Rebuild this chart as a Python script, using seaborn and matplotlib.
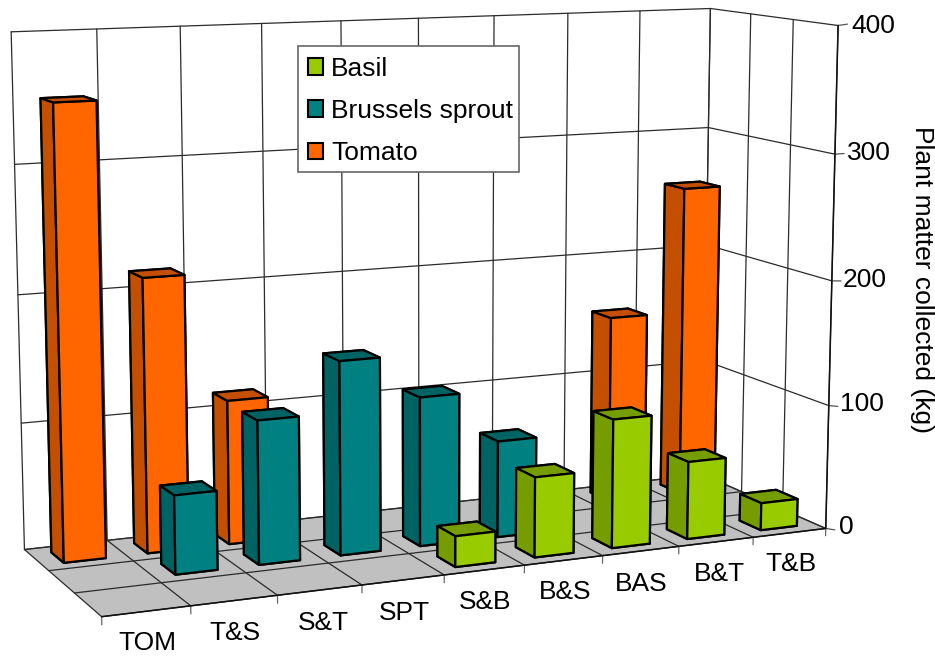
import numpy as np
import matplotlib
matplotlib.use("Agg")
import matplotlib.pyplot as plt
from matplotlib.patches import Patch, Rectangle
import seaborn as sns

categories = ["TOM", "T&S", "S&T", "SPT", "S&B", "B&S", "BAS", "B&T", "T&B"]
series_names = ["Basil", "Brussels sprout", "Tomato"]
basil = [0, 0, 0, 0, 24, 63, 102, 62, 22]
brussels = [0, 61, 112, 152, 118, 77, 0, 0, 0]
tomato = [351, 215, 114, 0, 0, 0, 0, 154, 257]
value_ticks = [0, 100, 200, 300, 400]
y_label = "Plant matter collected (kg)"

W, H = 935, 658
sns.set_theme(style="white")
plt.rcParams["font.family"] = ["Liberation Sans", "DejaVu Sans"]
colors = sns.color_palette(["#99CC00", "#008080", "#FF6600"])

# reference geometry of the chart box: (category, depth, value) -> pixel
anchors = [
    (0, 0, 0, 100.7, 617), (9, 0, 0, 826.7, 527.7), (0, 3, 0, 24.3, 549.3), (9, 3, 0, 702, 476),
    (0, 3, 400, 10.7, 32), (9, 3, 400, 711, 7.7), (9, 0, 400, 838.3, 25.7),
    (0, 3, 300, 15, 163.7), (9, 3, 300, 708.3, 127.7), (9, 0, 300, 835, 154),
    (1, 0, 0, 191, 606.7), (2, 0, 0, 276.7, 596), (7, 0, 0, 679, 545.7), (8, 0, 0, 752.7, 536.7),
    (0, 1, 0, 75.7, 593.3), (0, 2, 0, 49, 569.3), (1, 3, 400, 96.7, 29.3),
    (9, 2, 400, 750.7, 14), (9, 1, 400, 792.7, 20),
]


def fit_camera(pts):
    a = np.array(pts, float)
    X = np.c_[a[:, 0] / 9, a[:, 1] / 3, a[:, 2] / 400, np.ones(len(a))]
    u, v = a[:, 3] / W, a[:, 4] / H
    rows = []
    for i in range(len(a)):
        rows.append(np.r_[X[i], np.zeros(4), -u[i] * X[i]])
        rows.append(np.r_[np.zeros(4), X[i], -v[i] * X[i]])
    P = np.linalg.svd(np.array(rows))[2][-1].reshape(3, 4)
    P = np.diag([W, H, 1.0]) @ P @ np.diag([1 / 9, 1 / 3, 1 / 400, 1.0])
    return P


fig = plt.figure(figsize=(W / 100, H / 100), dpi=100, facecolor="white")
ax = fig.add_axes([0, -0.25, 1, 1.5], projection="3d", computed_zorder=False)
ax.set_axis_off()
ax.apply_aspect()

P = fit_camera(anchors)
to_display = np.array([[1, 0, 0], [0, -1, H], [0, 0, 1.0]])
Pv = ax.transData.inverted().get_matrix() @ to_display @ P
centre = np.array([4.5, 1.5, 200, 1.0])
if Pv[2] @ centre < 0:
    Pv = -Pv
k = Pv[2] @ centre
# depth row: -k/w is negative and grows with distance, as mplot3d expects
M = np.vstack([Pv[0], Pv[1], np.array([0, 0, 0, -k]), Pv[2]])
ax.get_proj = lambda: M

n = len(categories)
nd = len(series_names)
zmax = value_ticks[-1]

# floor
Xf, Yf = np.meshgrid([0, n], [0, nd])
ax.plot_surface(Xf, Yf, np.zeros_like(Xf, float), color="#C0C0C0", shade=False,
                linewidth=0, zorder=1, antialiased=True)

GRID = dict(color="#2b2b2b", lw=0.9, zorder=2, solid_capstyle="round")
AXIS = dict(color="#111111", lw=1.1, zorder=2.5)
for i in range(n + 1):
    ax.plot([i, i], [nd, nd], [0, zmax], **GRID)
    ax.plot([i, i], [0, nd], [0, 0], **GRID)
    ax.plot([i, i], [0, 0], [0, -6], color="#666666", lw=0.9, zorder=2)
for d in range(nd + 1):
    ax.plot([n, n], [d, d], [0, zmax], **GRID)
    ax.plot([0, n], [d, d], [0, 0], **GRID)
for v in value_ticks:
    ax.plot([0, n], [nd, nd], [v, v], **GRID)
    ax.plot([n, n], [0, nd], [v, v], **GRID)
    ax.plot([n, n], [0, -0.2], [v, v + 2], color="#555555", lw=0.9, zorder=2)
ax.plot([0, n], [0, 0], [0, 0], **AXIS)
ax.plot([n, n], [0, 0], [0, zmax], **AXIS)

# bars: back series first
bar_w = 0.5
bar_d = 0.5
order = [(2, tomato), (1, brussels), (0, basil)]
zo = 3
for d, vals in order:
    front = colors[d]
    dark = tuple(c * 0.77 for c in front)
    for i, v in enumerate(vals):
        if v <= 0:
            continue
        col = ax.bar3d(i + 0.5 - bar_w / 2, d + 0.5 - bar_d / 2, 0, bar_w, bar_d, v,
                       color=[dark, dark, front, dark, dark, dark], shade=False,
                       edgecolor="black", linewidth=1.6, zorder=zo)
        col.set_clip_on(False)
        zo += 1

# text
FS = 19
label_px = [(147, 643), (235, 633), (323, 623), (404, 613), (485, 602),
            (565, 592), (641, 584), (719, 574), (791, 564)]
for name, (px, py) in zip(categories, label_px):
    fig.text(px / W, 1 - py / H, name, ha="center", va="center", fontsize=FS, color="black")
tick_px = [(839, 527), (840, 404), (843, 280), (847, 153), (851, 26)]
for v, (px, py) in zip(value_ticks, tick_px):
    fig.text(px / W, 1 - py / H, str(v), ha="left", va="center", fontsize=FS, color="black")
fig.text(922 / W, 1 - 279 / H, y_label, rotation=-90, ha="center", va="center", fontsize=FS, color="black")

# legend: frame drawn at the reference's box, entries placed inside it
fig.add_artist(Rectangle((298.3 / W, 1 - 171.7 / H), 220.7 / W, 126 / H, transform=fig.transFigure,
                         facecolor="white", edgecolor="#666666", linewidth=1.2, zorder=4))
handles = [Patch(facecolor=c, edgecolor="black", linewidth=1.5) for c in colors]
leg = fig.legend(handles, series_names, loc="upper left",
                 bbox_to_anchor=(298.3 / W, 1 - 47.7 / H), borderaxespad=0,
                 fontsize=FS, frameon=False, labelcolor="black",
                 handlelength=0.6, handleheight=0.6, handletextpad=0.3,
                 labelspacing=0.69, borderpad=0.35)
leg.set_zorder(5)

fig.savefig("out.png", dpi=100)
